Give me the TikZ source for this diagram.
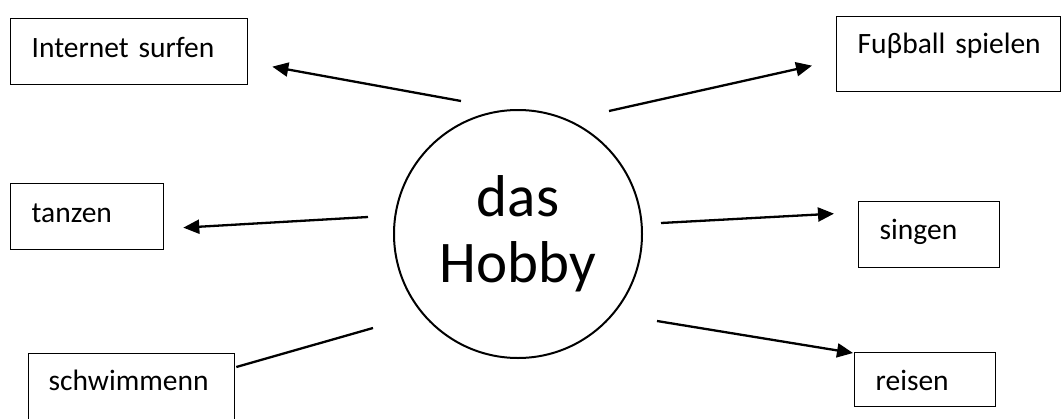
\documentclass[tikz,border=0pt]{standalone}
\usepackage{fontspec}
\setmainfont{Carlito}
\usetikzlibrary{arrows.meta}

\begin{document}
\begin{tikzpicture}[%
    x=1pt, y=-1pt,
    hobbybox/.style={
      rectangle,
      draw=black,
      line width=1.3pt,
      anchor=north west,
      align=left,
      inner xsep=21pt,
      inner ysep=0pt,
      font=\fontsize{29.5}{33}\selectfont
    },
    hub/.style={
      circle,
      draw=black,
      line width=2pt,
      minimum size=248pt,
      inner sep=0pt,
      align=center,
      font=\fontsize{59}{66}\selectfont
    },
    line/.style={
      draw,
      line width=2.3pt
    },
    arrow/.style={
      line,
      -{Triangle[length=16pt,width=14pt]}
    }
  ]
  \useasboundingbox (0,0) rectangle (1061,418);

  \node[hub] (hobby) at (518,234) {das\\Hobby};

  \node[hobbybox, text width=195pt, text height=39pt, text depth=27pt] (inet) at (10,18) {Internet surfen};
  \node[hobbybox, text width=182pt, text height=37pt, text depth=38pt] (fussball) at (836,16) {\mbox{Fuβball spielen}};
  \node[hobbybox, text width=111pt, text height=39pt, text depth=27pt] (tanzen) at (10,183) {tanzen};
  \node[hobbybox, text width=99pt, text height=38pt, text depth=28pt] (singen) at (858,201) {singen};
  \node[hobbybox, text width=166pt, text height=37pt, text depth=40pt, inner xsep=20pt] (schwimmen) at (28,353) {schwimmenn};
  \node[hobbybox, text width=99pt, text height=38pt, text depth=16pt] (reisen) at (854,352) {reisen};

  % connectors
  \path[arrow] ([shift={(-57,-133)}]hobby.center) -- ([shift={(24,15)}]inet.east);
  \path[arrow] ([shift={(91,-123)}]hobby.center) -- ([shift={(-24,11.5)}]fussball.west);
  \path[arrow] ([shift={(-150,-17)}]hobby.center) -- ([shift={(19,11)}]tanzen.east);
  \path[arrow] ([shift={(143,-11)}]hobby.center) -- ([shift={(-24,-21)}]singen.west);
  \path[line] ([shift={(-145,94)}]hobby.center) -- ([shift={(1,14)}]schwimmen.north east);
  \path[arrow] ([shift={(139,87)}]hobby.center) -- ([shift={(-1,1)}]reisen.north west);
\end{tikzpicture}
\end{document}
